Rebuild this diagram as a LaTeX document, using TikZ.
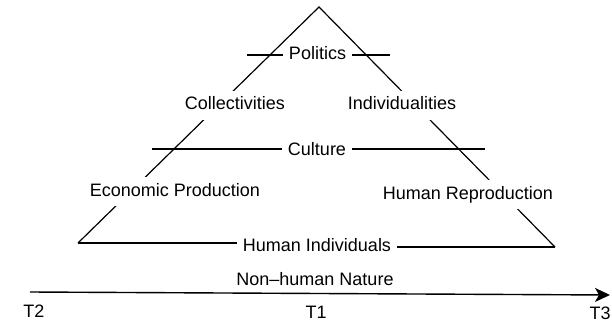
\documentclass[tikz,border=0pt]{standalone}
\usepackage{fontspec}
\setmainfont{Liberation Sans}
\usetikzlibrary{arrows.meta}
\begin{document}
\begin{tikzpicture}[x=1pt,y=-1pt,
  lbl/.style={font=\fontsize{18}{20}\selectfont, anchor=base, inner xsep=6pt, inner ysep=6pt, text height=13pt, text depth=4pt},
  cut/.style={lbl, fill=white},
  edge/.style={line width=1.2pt, black},
  timeline/.style={line width=1.4pt, -{Stealth[length=15pt,width=14pt,inset=4pt]}}]
\useasboundingbox (0,0) rectangle (612,323);
% triangle corners
\coordinate (A) at (319,7);
\coordinate (L) at (78,243);
\coordinate (R) at (555,247);
\draw[edge] (L) -- (A) -- (R);
% politics line
\coordinate (pl) at (247,55);
\coordinate (pr) at (390,55);
\node[lbl] (pol) at (317.5,60) {Politics};
\draw[edge] (pl) -- (pl -| pol.west);
\draw[edge] (pol.east |- pr) -- (pr);
% culture line
\coordinate (cl) at (152,149);
\coordinate (cr) at (485,149);
\node[lbl] (cul) at (317,156) {Culture};
\draw[edge] (cl) -- (cl -| cul.west);
\draw[edge] (cul.east |- cr) -- (cr);
% human individuals
\node[lbl] (hi) at (317,251) {Human Individuals};
\draw[edge] (L) -- (L -| hi.west);
\draw[edge] (hi.east |- R) -- (R);
% labels on sides
\node[cut] (col) at (235,110) {Collectivities};
\node[cut] (ind) at (402,110) {Individualities};
\node[cut] (eco) at (175,196) {Economic Production};
\node[cut] (rep) at (468,199) {Human Reproduction};
% timeline
\coordinate (t0) at (30,292);
\coordinate (t1) at (610,295);
\draw[timeline] (t0) -- (t1);
\node[lbl] (nhn) at (315,285) {Non--human Nature};
\node[lbl] (T2) at (34,317) {T2};
\node[lbl] (T1) at (316,318) {T1};
\node[lbl] (T3) at (600,319) {T3};
\end{tikzpicture}
\end{document}
